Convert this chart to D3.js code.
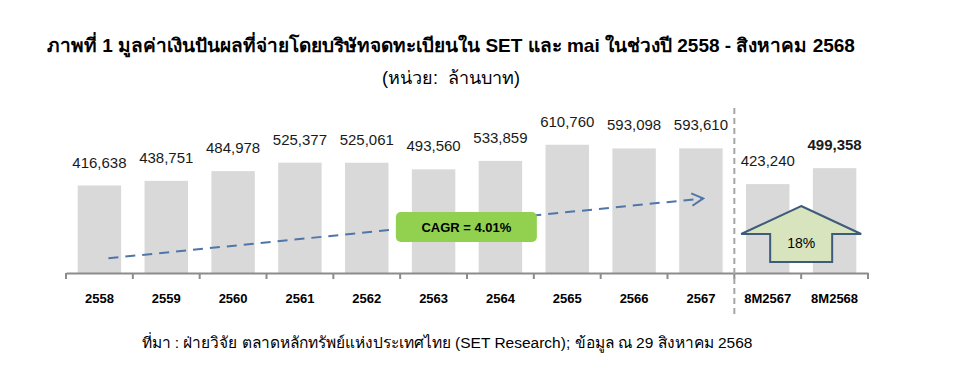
<!DOCTYPE html>
<html>
<head>
<meta charset="utf-8">
<script src="https://cdn.jsdelivr.net/npm/d3@7"></script>
<style>
  body { margin: 0; background: #fff; }
  text { font-family: "Liberation Sans", Arial, sans-serif; white-space: pre; }
</style>
</head>
<body>
<script>
// categories and values (million baht)
const years = ['2558', '2559', '2560', '2561', '2562', '2563', '2564', '2565', '2566', '2567', '8M2567', '8M2568'];
const values = [416638, 438751, 484978, 525377, 525061, 493560, 533859, 610760, 593098, 593610, 423240, 499358];
const cagrText = 'CAGR = 4.01%';
const growthText = '18%';

const w = 960, h = 383;
const margin = { left: 66, right: 92, top: 126, bottom: 110 };

const svg = d3.select('body').append('svg')
    .attr('width', w)
    .attr('height', h);

// title
svg.append('text')
    .attr('x', 451).attr('y', 52)
    .attr('text-anchor', 'middle')
    .attr('font-size', 19).attr('font-weight', 'bold')
    .text('ภาพที่ 1 มูลค่าเงินปันผลที่จ่ายโดยบริษัทจดทะเบียนใน SET และ mai ในช่วงปี 2558 - สิงหาคม 2568');
svg.append('text')
    .attr('x', 451).attr('y', 84)
    .attr('text-anchor', 'middle')
    .attr('font-size', 18)
    .text('(หน่วย:  ล้านบาท)');

// scales
const x = d3.scaleBand()
    .domain(years)
    .range([margin.left, w - margin.right])
    .paddingInner(0.35)
    .paddingOuter(0.175);
const y = d3.scaleLinear()
    .domain([0, 700000])
    .range([h - margin.bottom, margin.top]);
const step = x.step();
const gap = (step - x.bandwidth()) / 2;

// bars
svg.selectAll('rect.bar')
    .data(years)
    .enter()
    .append('rect')
    .attr('class', 'bar')
    .attr('x', d => x(d))
    .attr('y', (d, i) => y(values[i]))
    .attr('width', x.bandwidth())
    .attr('height', (d, i) => y(0) - y(values[i]))
    .attr('fill', '#d9d9d9');

// value labels
svg.selectAll('text.val')
    .data(years)
    .enter()
    .append('text')
    .attr('class', 'val')
    .attr('x', d => x(d) + x.bandwidth() / 2)
    .attr('y', (d, i) => y(values[i]) - 18)
    .attr('text-anchor', 'middle')
    .attr('font-size', 15)
    .attr('font-weight', (d, i) => i === years.length - 1 ? 'bold' : 'normal')
    .attr('fill', '#1a1a1a')
    .text((d, i) => d3.format(',')(values[i]));

// x axis
const xAxis = d3.axisBottom(x).tickSize(0).tickSizeOuter(0).tickPadding(21);
const axisG = svg.append('g')
    .attr('transform', `translate(0,${y(0)})`)
    .call(xAxis);
axisG.select('.domain').attr('stroke', '#8c8c8c').attr('stroke-width', 2);
axisG.selectAll('text')
    .attr('font-size', 13).attr('font-weight', 'bold').attr('fill', '#000')
    .style('font-family', '"Liberation Sans", Arial, sans-serif');
// ticks at category boundaries
axisG.selectAll('line.bt')
    .data(years.concat(['end']))
    .enter()
    .append('line')
    .attr('class', 'bt')
    .attr('x1', (d, i) => i < years.length ? x(d) - gap : x(years[i - 1]) + x.bandwidth() + gap)
    .attr('x2', (d, i) => i < years.length ? x(d) - gap : x(years[i - 1]) + x.bandwidth() + gap)
    .attr('y1', 0).attr('y2', 6)
    .attr('stroke', '#8c8c8c').attr('stroke-width', 2);

// dashed separator between full years and 8 months
const sepX = x('8M2567') - gap;
svg.append('line')
    .attr('x1', sepX).attr('x2', sepX)
    .attr('y1', 108).attr('y2', 316)
    .attr('stroke', '#a6a6a6').attr('stroke-width', 2)
    .attr('stroke-dasharray', '6,4');

// CAGR dashed arrow
const c0 = x('2558') + x.bandwidth() / 2 + 9;
const c1 = x('2567') + 24;
const ay0 = y(70000), ay1 = y(355000);
svg.append('line')
    .attr('x1', c0).attr('y1', ay0)
    .attr('x2', c1).attr('y2', ay1)
    .attr('stroke', '#4f76a8').attr('stroke-width', 2)
    .attr('stroke-dasharray', '10,7');
const ang = Math.atan2(ay1 - ay0, c1 - c0);
const hl = 13;
svg.append('path')
    .attr('d', `M${c1 - hl * Math.cos(ang - 0.5)},${ay1 - hl * Math.sin(ang - 0.5)} L${c1},${ay1} L${c1 - hl * Math.cos(ang + 0.5)},${ay1 - hl * Math.sin(ang + 0.5)}`)
    .attr('fill', 'none')
    .attr('stroke', '#4f76a8').attr('stroke-width', 2);

// CAGR label box
const bx = x('2563') - 16, bw = 141;
svg.append('rect')
    .attr('x', bx).attr('y', 212)
    .attr('width', bw).attr('height', 30)
    .attr('rx', 5)
    .attr('fill', '#92d050');
svg.append('text')
    .attr('x', bx + bw / 2).attr('y', 232)
    .attr('text-anchor', 'middle')
    .attr('font-size', 13).attr('font-weight', 'bold')
    .text(cagrText);

// growth up arrow
const tipX = x('8M2568') - gap;
const tipY = 206, wingY = 234, baseY = 262;
svg.append('path')
    .attr('d', `M${tipX},${tipY} L${tipX + 60},${wingY} L${tipX + 31},${wingY} L${tipX + 31},${baseY} L${tipX - 31},${baseY} L${tipX - 31},${wingY} L${tipX - 60},${wingY} Z`)
    .attr('fill', '#d7e4bd')
    .attr('stroke', '#3f5b7c').attr('stroke-width', 2);
svg.append('text')
    .attr('x', tipX).attr('y', 248)
    .attr('text-anchor', 'middle')
    .attr('font-size', 14)
    .text(growthText);

// source
svg.append('text')
    .attr('x', 447).attr('y', 348)
    .attr('text-anchor', 'middle')
    .attr('font-size', 15.5)
    .text('ที่มา : ฝ่ายวิจัย ตลาดหลักทรัพย์แห่งประเทศไทย (SET Research); ข้อมูล ณ 29 สิงหาคม 2568');
</script>
</body>
</html>
